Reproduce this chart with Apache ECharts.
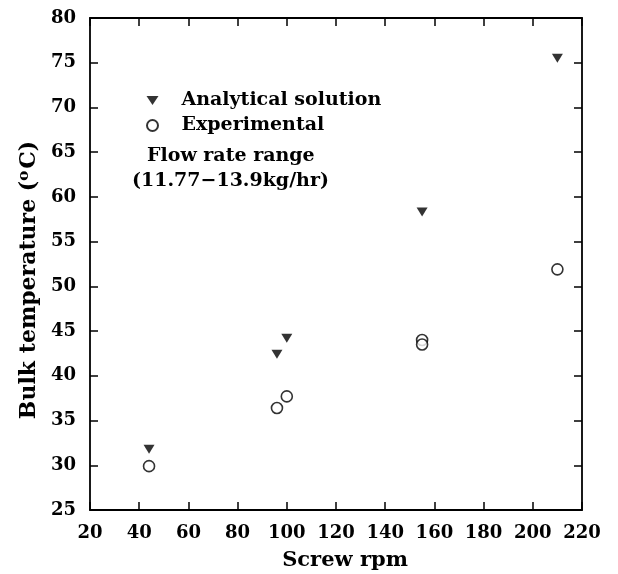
<!DOCTYPE html>
<html><head><meta charset="utf-8">
<script src="https://cdn.jsdelivr.net/npm/echarts@6/dist/echarts.min.js"></script>
<style>html,body{margin:0;padding:0;background:#fff}#c{width:618px;height:574px}</style>
</head><body><div id="c"></div>
<script>
const analytical = [[44, 31.8], [96, 42.4], [100, 44.2], [155, 58.3], [210, 75.5]];
const experimental = [[44, 29.9], [96, 36.4], [100, 37.7], [155, 44.0], [155, 43.5], [210, 51.9]];
const xTicks = {min: 20, max: 220, interval: 20};
const yTicks = {min: 25, max: 80, interval: 5};
const FONT = 'DejaVu Serif';
const chart = echarts.init(document.getElementById('c'));
const tickStyle = {show: true, inside: true, length: 8, lineStyle: {color: '#000', width: 1.5}};
const lineStyle = {show: true, lineStyle: {color: '#000', width: 1.8}};
chart.setOption({
  animation: false,
  backgroundColor: '#fff',
  grid: {left: 90, right: 36, top: 18, bottom: 64, containLabel: false, outerBoundsMode: 'none'},
  legend: {
    orient: 'vertical', left: 141, top: 86, itemGap: 6, itemWidth: 12, itemHeight: 11,
    textStyle: {fontFamily: FONT, fontWeight: 'bold', fontSize: 19, color: '#000', padding: [0, 0, 0, 18]},
    data: [{name: 'Analytical solution', icon: 'path://M0,0 L12,0 L6,9 Z'}, {name: 'Experimental', icon: 'circle'}]
  },
  xAxis: [{
    type: 'value', min: xTicks.min, max: xTicks.max, interval: xTicks.interval,
    name: 'Screw rpm', nameLocation: 'middle', nameGap: 40,
    nameTextStyle: {fontFamily: FONT, fontWeight: 'bold', fontSize: 21, color: '#000', padding: [0, 0, 0, 18]},
    axisLine: lineStyle, axisTick: tickStyle, splitLine: {show: false},
    axisLabel: {fontFamily: FONT, fontWeight: 'bold', fontSize: 18, color: '#000', margin: 14}
  }, {
    type: 'value', position: 'top', min: xTicks.min, max: xTicks.max, interval: xTicks.interval,
    axisLine: lineStyle, axisTick: tickStyle, splitLine: {show: false}, axisLabel: {show: false}
  }],
  yAxis: [{
    type: 'value', min: yTicks.min, max: yTicks.max, interval: yTicks.interval,
    name: 'Bulk temperature ({sup|o}C)', nameLocation: 'middle', nameGap: 47,
    nameTextStyle: {fontFamily: FONT, fontWeight: 'bold', fontSize: 22, color: '#000', padding: [0, 32, 0, 0],
      rich: {sup: {fontFamily: FONT, fontWeight: 'bold', fontSize: 15, color: '#000', verticalAlign: 'top', padding: [0, 2, 10, 0]}}},
    axisLine: lineStyle, axisTick: tickStyle, splitLine: {show: false},
    axisLabel: {fontFamily: FONT, fontWeight: 'bold', fontSize: 18, color: '#000', margin: 14}
  }, {
    type: 'value', position: 'right', min: yTicks.min, max: yTicks.max, interval: yTicks.interval,
    axisLine: lineStyle, axisTick: tickStyle, splitLine: {show: false}, axisLabel: {show: false}
  }],
  graphic: [
    {type: 'text', left: 147, top: 147, style: {text: 'Flow rate range', font: 'bold 19px "DejaVu Serif"', fill: '#000'}},
    {type: 'text', left: 132, top: 172, style: {text: '(11.77\u221213.9kg/hr)', font: 'bold 19px "DejaVu Serif"', fill: '#000'}}
  ],
  series: [{
    name: 'Analytical solution', type: 'scatter', data: analytical,
    symbol: 'triangle', symbolRotate: 180, symbolSize: [11, 9],
    itemStyle: {color: '#000'}
  }, {
    name: 'Experimental', type: 'scatter', data: experimental,
    symbol: 'circle', symbolSize: 11,
    itemStyle: {color: '#fff', borderColor: '#000', borderWidth: 1.6}
  }]
});
</script></body></html>
